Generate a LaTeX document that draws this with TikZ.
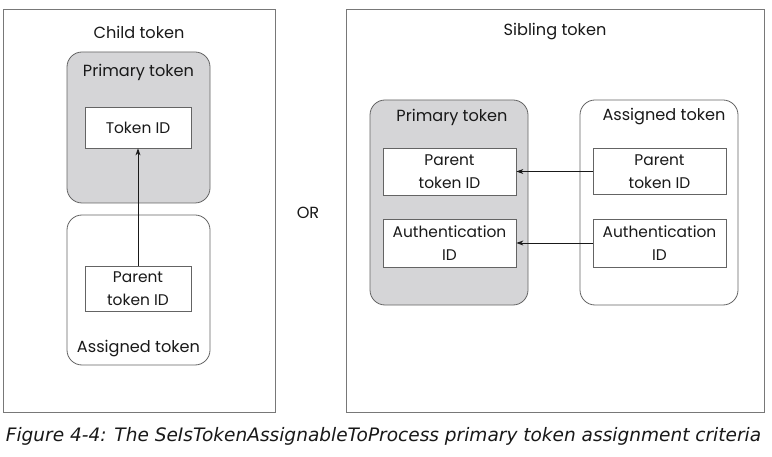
\documentclass[tikz,border=0pt]{standalone}
\usepackage{fontspec}
\setmainfont{Poppins}
\newfontfamily\capfont{DejaVu Sans}
\usetikzlibrary{arrows.meta}
\definecolor{framegray}{RGB}{120,120,120}
\definecolor{boxfill}{RGB}{213,213,215}
\definecolor{edgegray}{RGB}{100,100,100}
\tikzset{
  frame/.style={draw=framegray, line width=0.8bp, rectangle, inner sep=0pt},
  tokbox/.style={draw=edgegray, line width=0.8bp, rectangle, rounded corners=15bp, inner sep=0pt},
  graybox/.style={tokbox, fill=boxfill},
  whitebox/.style={tokbox, fill=white},
  idbox/.style={draw=edgegray, line width=0.8bp, fill=white, rectangle, inner sep=0pt, align=center,
    font=\fontsize{15.5}{23}\selectfont, text=black!90},
  lbl/.style={font=\fontsize{16.2}{19}\selectfont, text=black!90, inner sep=0pt},
  arr/.style={draw=black!90, line width=0.8bp, -{Stealth[length=7bp,width=5bp]}}
}
\begin{document}
\begin{tikzpicture}[x=1bp,y=-1bp]
\useasboundingbox[fill=white] (0,0) rectangle (772,457);
% left frame
\node[frame, minimum width=272bp, minimum height=403bp] (lframe) at (139,210.5) {};
\node[lbl] (ltitle) at (139,32) {Child token};
\node[graybox, minimum width=143bp, minimum height=151bp] (lprim) at (138.5,127.5) {};
\node[lbl] (lprimlbl) at (138.5,72) {Primary token};
\node[whitebox, minimum width=143bp, minimum height=150bp] (lasg) at (138.5,290) {};
\node[lbl] (lasglbl) at (138.5,349) {Assigned token};
\node[idbox, minimum width=106bp, minimum height=41bp] (ltid) at (138,127.5) {Token ID};
\node[idbox, minimum width=106bp, minimum height=45bp] (lpar) at (138,288.5) {Parent\\token ID};
\draw[arr] (lpar.north) -- (ltid.south);
% OR
\node[lbl] (orlbl) at (308,213) {OR};
% right frame
\node[frame, minimum width=418bp, minimum height=403bp] (rframe) at (555,210.5) {};
\node[lbl] (rtitle) at (555,32) {Sibling token};
\node[graybox, minimum width=158bp, minimum height=205bp] (rprim) at (449,202.5) {};
\node[lbl] (rprimlbl) at (452,117) {Primary token};
\node[whitebox, minimum width=158bp, minimum height=205bp] (rasg) at (659,202.5) {};
\node[lbl] (rasglbl) at (664,117) {Assigned token};
\node[idbox, minimum width=133bp, minimum height=47bp] (pp) at (449.5,171.5) {Parent\\token ID};
\node[idbox, minimum width=133bp, minimum height=48bp] (pa) at (449.5,243) {Authentication\\ID};
\node[idbox, minimum width=133bp, minimum height=46bp] (ap) at (659.5,171.5) {Parent\\token ID};
\node[idbox, minimum width=133bp, minimum height=48bp] (aa) at (659.5,243) {Authentication\\ID};
\draw[arr] (ap.west) -- (pp.east);
\draw[arr] (aa.west) -- (pa.east);
% caption
\node[font=\capfont\itshape\fontsize{18.6}{22}\selectfont, text=black!90, inner sep=0pt, anchor=base] (cap) at (383.5,441) {Figure 4-4: The SeIsTokenAssignableToProcess primary token assignment criteria};
\end{tikzpicture}
\end{document}
